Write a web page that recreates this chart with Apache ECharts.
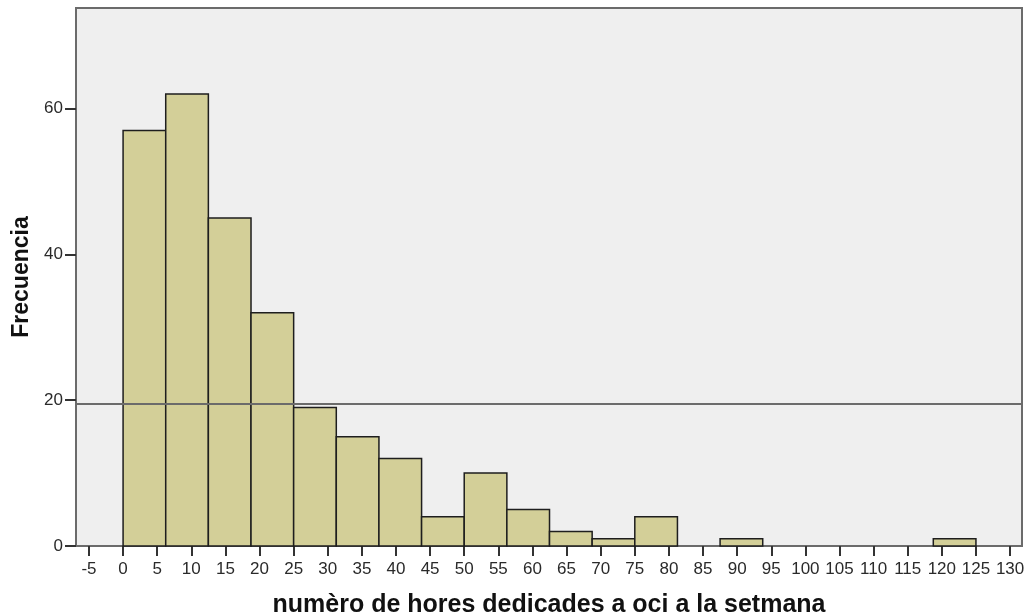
<!DOCTYPE html>
<html>
<head>
<meta charset="utf-8">
<script src="https://cdn.jsdelivr.net/npm/echarts@6/dist/echarts.min.js"></script>
<style>html,body{margin:0;padding:0;background:#fff}#c{width:1028px;height:616px}</style>
</head>
<body>
<div id="c"></div>
<script>
// Histogram bins (hours per week) and frequencies
const binEdges = [0, 6.25, 12.5, 18.75, 25, 31.25, 37.5, 43.75, 50, 56.25, 62.5, 68.75, 75, 81.25, 87.5, 93.75, 100, 106.25, 112.5, 118.75, 125];
const counts = [57, 62, 45, 32, 19, 15, 12, 4, 10, 5, 2, 1, 4, 0, 1, 0, 0, 0, 0, 1];
const xTicks = [-5, 0, 5, 10, 15, 20, 25, 30, 35, 40, 45, 50, 55, 60, 65, 70, 75, 80, 85, 90, 95, 100, 105, 110, 115, 120, 125, 130];
const yTicks = [0, 20, 40, 60];
const refLine = 19.5;
const xName = 'numèro de hores dedicades a oci a la setmana';
const yName = 'Frecuencia';

const data = counts.map((c, i) => [binEdges[i], binEdges[i + 1], c]).filter(d => d[2] > 0);

const chart = echarts.init(document.getElementById('c'));
chart.setOption({
  animation: false,
  grid: {
    left: 76, right: 6, top: 8, bottom: 70,
    outerBoundsMode: 'none', containLabel: false,
    show: true, backgroundColor: '#efefef', borderColor: '#6b6b6b', borderWidth: 2
  },
  xAxis: {
    type: 'value', min: -6.9, max: 131.75,
    name: xName, nameLocation: 'middle', nameGap: 47,
    nameTextStyle: { fontFamily: 'Liberation Sans', fontWeight: 'bold', fontSize: 25, color: '#111' },
    axisLine: { show: true, onZero: false, lineStyle: { color: '#6b6b6b', width: 2 } },
    axisTick: { show: true, length: 10, customValues: xTicks, lineStyle: { color: '#333', width: 2 } },
    axisLabel: { customValues: xTicks, fontFamily: 'Liberation Sans', fontSize: 17, color: '#2a2a2a', margin: 15 },
    splitLine: { show: false }
  },
  yAxis: {
    type: 'value', min: 0, max: 73.8,
    name: yName, nameLocation: 'middle', nameGap: 37, nameRotate: 90,
    nameTextStyle: { fontFamily: 'Liberation Sans', fontWeight: 'bold', fontSize: 23, color: '#111' },
    axisLine: { show: true, onZero: false, lineStyle: { color: '#6b6b6b', width: 2 } },
    axisTick: { show: true, length: 11, customValues: yTicks, lineStyle: { color: '#333', width: 2 } },
    axisLabel: { customValues: yTicks, fontFamily: 'Liberation Sans', fontSize: 17, color: '#2a2a2a', margin: 13 },
    splitLine: { show: false }
  },
  series: [{
    type: 'custom',
    data: data,
    encode: { x: [0, 1], y: 2 },
    renderItem: function (params, api) {
      const p0 = api.coord([api.value(0), api.value(2)]);
      const p1 = api.coord([api.value(1), 0]);
      return {
        type: 'rect',
        shape: { x: p0[0], y: p0[1], width: p1[0] - p0[0], height: p1[1] - p0[1] },
        style: { fill: '#d3cf98', stroke: '#1e1e1e', lineWidth: 1.5 }
      };
    },
    markLine: {
      silent: true, symbol: 'none', label: { show: false },
      lineStyle: { color: '#6b6b6b', width: 2, type: 'solid' },
      data: [{ yAxis: refLine }],
      z: 10
    }
  }]
});
</script>
</body>
</html>
